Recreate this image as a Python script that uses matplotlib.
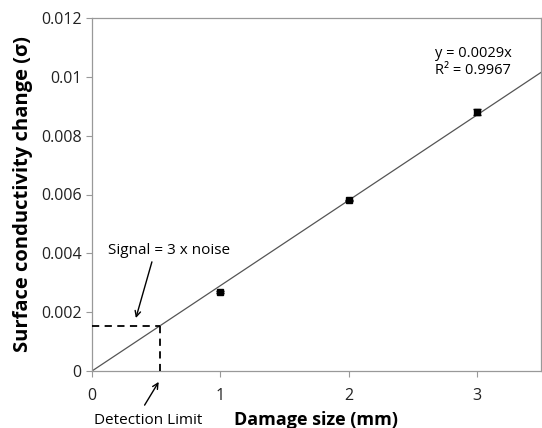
import matplotlib
matplotlib.use("Agg")
import matplotlib.pyplot as plt
import numpy as np

damage = [1, 2, 3]
conductivity = [0.00268, 0.0058, 0.0088]
errors = [0.00003, 0.00003, 0.0001]
slope = 0.0029
detection_x = 0.53
x_ticks = [0, 1, 2, 3]
y_ticks = [0, 0.002, 0.004, 0.006, 0.008, 0.01, 0.012]
y_labels = ["0", "0.002", "0.004", "0.006", "0.008", "0.01", "0.012"]

plt.rcParams['font.family'] = ['Open Sans', 'DejaVu Sans']

fig = plt.figure(figsize=(5.42, 4.28), dpi=100)
ax = fig.add_axes([92/542, 57/428, 449/542, 353/428])
ax.set_xlim(0, 3.5)
ax.set_ylim(0, 0.012)

xs = np.array([0, 3.5])
ax.plot(xs, slope*xs, color='#555555', lw=0.9, zorder=2)
ax.errorbar(damage, conductivity, yerr=errors, fmt='s', color='black', ms=5,
            capsize=3, elinewidth=1, zorder=3)

dy = slope*detection_x
ax.plot([0, detection_x], [dy, dy], ls=(0, (4, 3)), color='black', lw=1.3, clip_on=False, zorder=4)
ax.plot([detection_x, detection_x], [dy, 0], ls=(0, (4, 3)), color='black', lw=1.3, zorder=4)

ax.text(0.60, 0.00411, "Signal = 3 x noise", fontsize=11, ha='center', va='center')
ax.annotate("", xy=(0.342, 0.0018), xytext=(0.467, 0.00371),
            arrowprops=dict(arrowstyle='->', color='black', lw=1, shrinkA=0, shrinkB=0))
ax.text(0.436, -0.00167, "Detection Limit", fontsize=11, ha='center', va='center', clip_on=False)
ax.annotate("", xy=(0.52, -0.00037), xytext=(0.41, -0.00116), annotation_clip=False,
            arrowprops=dict(arrowstyle='->', color='black', lw=1, shrinkA=0, shrinkB=0))

ax.text(2.67, 0.0105, "y = 0.0029x\nR² = 0.9967", fontsize=10.5, ha='left', va='center',
        linespacing=1.15)

ax.set_xticks(x_ticks)
ax.set_yticks(y_ticks)
ax.set_yticklabels(y_labels)
ax.tick_params(direction='out', length=4, color='#999999', labelsize=11.5, labelcolor='#222222')
ax.tick_params(axis='x', pad=8)
for s in ax.spines.values():
    s.set_color('#999999')
    s.set_linewidth(0.9)

ax.set_xlabel("Damage size (mm)", fontsize=13, fontweight='bold', labelpad=5)
ax.set_ylabel("Surface conductivity change (σ)", fontsize=14.5, fontweight='bold', labelpad=6)

fig.savefig("out.png", dpi=100)
